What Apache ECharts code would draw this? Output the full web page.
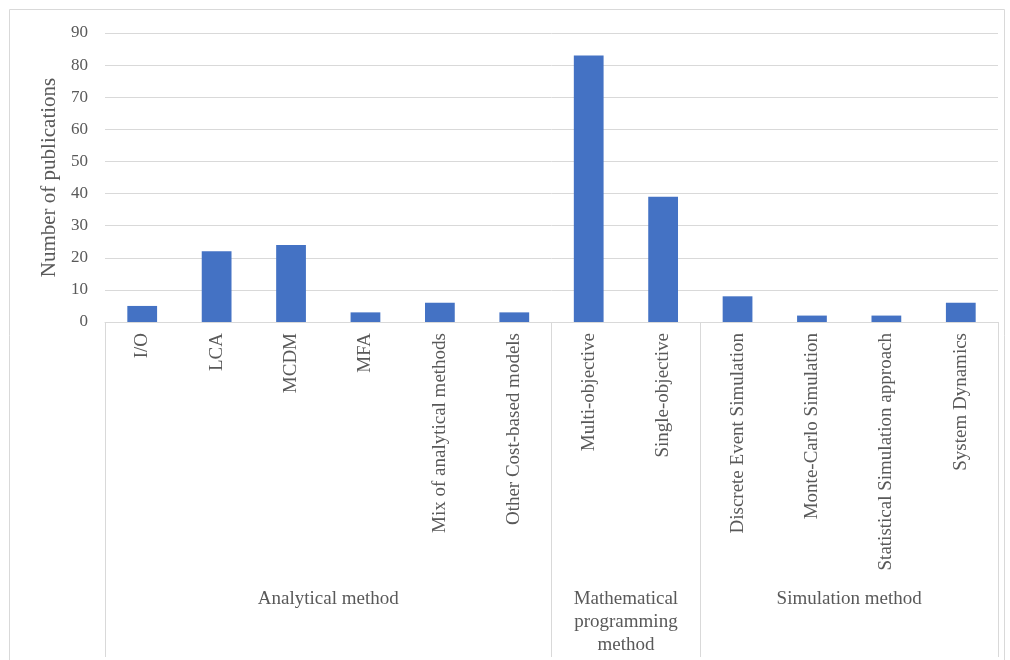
<!DOCTYPE html>
<html>
<head>
<meta charset="utf-8">
<script src="https://cdn.jsdelivr.net/npm/echarts@6/dist/echarts.min.js"></script>
<style>
  html, body { margin: 0; padding: 0; background: #fff; }
  #chart { width: 1010px; height: 660px; }
</style>
</head>
<body>
<div id="chart"></div>
<script>
// data
const categories = ['I/O', 'LCA', 'MCDM', 'MFA', 'Mix of analytical methods', 'Other Cost-based models',
  'Multi-objective', 'Single-objective',
  'Discrete Event Simulation', 'Monte-Carlo Simulation', 'Statistical Simulation approach', 'System Dynamics']
const publications = [5, 22, 24, 3, 6, 3, 83, 39, 8, 2, 2, 6]
// groups: name and number of categories in it
const groupNames = ['Analytical method', 'Mathematical\nprogramming\nmethod', 'Simulation method']
const groupSizes = [6, 2, 4]

// boundaries and centres of the groups on a 0..12 value axis
const groupEdges = [0]
const groupCenters = []
groupSizes.forEach(function (n) {
  const start = groupEdges[groupEdges.length - 1]
  groupCenters.push(start + n / 2)
  groupEdges.push(start + n)
})

const font = '"Liberation Serif", "DejaVu Serif", serif'
const textColor = '#595959'
const lineColor = '#d9d9d9'

const chart = echarts.init(document.getElementById('chart'))
const option = {
  animation: false,
  textStyle: { fontFamily: font },
  graphic: [
    {
      type: 'rect',
      shape: { x: 9.5, y: 9.5, width: 995, height: 680 },
      style: { fill: 'none', stroke: lineColor, lineWidth: 1 },
      silent: true
    }
  ],
  grid: { left: 105, right: 12, top: 33, bottom: 338 },
  xAxis: [
    {
      type: 'category',
      data: categories,
      axisLine: { show: true, lineStyle: { color: lineColor } },
      axisTick: { show: false },
      axisLabel: {
        rotate: 90,
        interval: 0,
        margin: 11,
        color: textColor,
        fontSize: 19,
        fontFamily: font
      }
    },
    {
      type: 'value',
      position: 'bottom',
      min: 0,
      max: 12,
      axisLine: { show: false },
      splitLine: { show: false },
      axisTick: {
        show: true,
        length: 335,
        customValues: groupEdges,
        lineStyle: { color: lineColor }
      },
      axisLabel: {
        customValues: groupCenters,
        margin: 266,
        verticalAlign: 'top',
        color: textColor,
        fontSize: 19,
        lineHeight: 23,
        fontFamily: font,
        formatter: function (v) {
          return groupNames[groupCenters.indexOf(v)]
        }
      }
    }
  ],
  yAxis: {
    type: 'value',
    min: 0,
    max: 90,
    interval: 10,
    name: 'Number of publications',
    nameLocation: 'middle',
    nameGap: 41,
    nameTextStyle: { color: textColor, fontSize: 21, fontFamily: font },
    axisLine: { show: false },
    axisTick: { show: false },
    axisLabel: { color: textColor, fontSize: 17, margin: 17, fontFamily: font },
    splitLine: { lineStyle: { color: lineColor, width: 1 } }
  },
  series: [
    {
      type: 'bar',
      xAxisIndex: 0,
      data: publications,
      barWidth: '40%',
      itemStyle: { color: '#4472c4' }
    }
  ]
}
chart.setOption(option)
</script>
</body>
</html>
